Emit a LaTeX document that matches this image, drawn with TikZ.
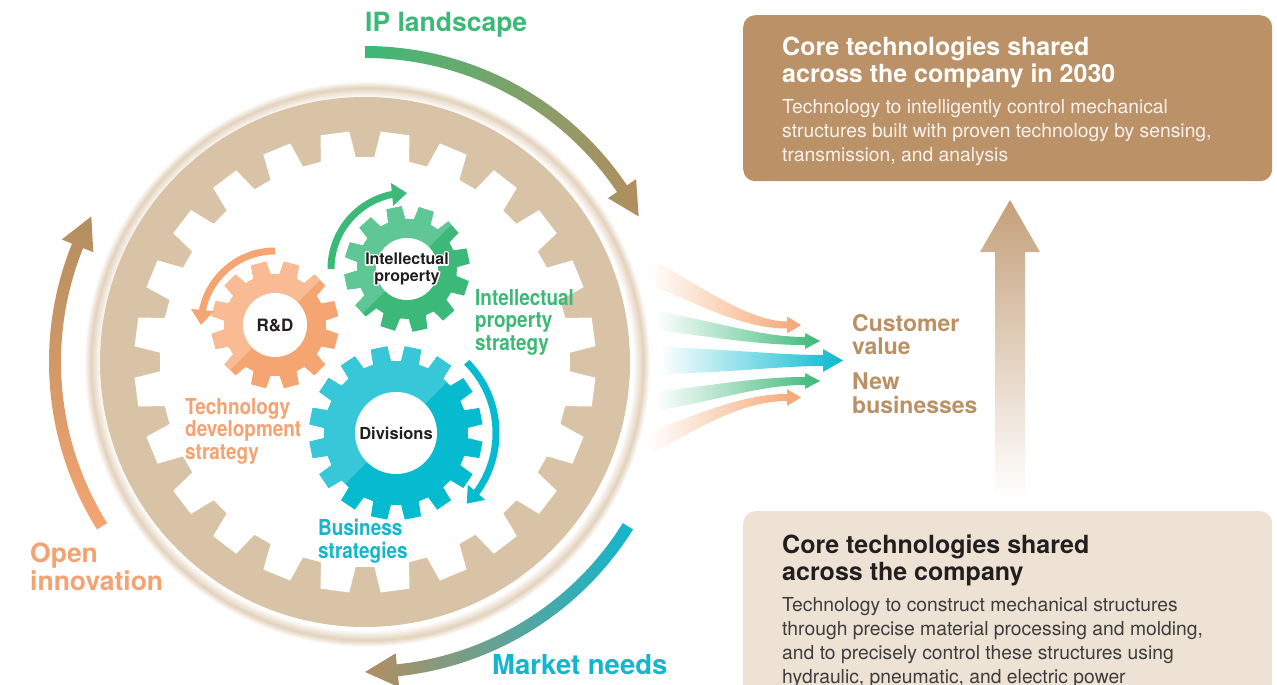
\documentclass[tikz,border=0pt]{standalone}
\usepackage{fontspec}
\setmainfont{TeX Gyre Heros}
\newfontfamily\narrowfont[FakeStretch=0.86]{TeX Gyre Heros}
\usepackage{tikz}
\usetikzlibrary{arrows.meta,bending}

\definecolor{ringtan}{HTML}{D9C3A6}
\definecolor{ringedge}{HTML}{E3D2BD}
\definecolor{rdlight}{HTML}{F8BB94}
\definecolor{rddark}{HTML}{F5A571}
\definecolor{iplight}{HTML}{5EC795}
\definecolor{ipdark}{HTML}{3CB979}
\definecolor{divlight}{HTML}{38C7D8}
\definecolor{divdark}{HTML}{06BACF}
\definecolor{orangetext}{HTML}{F5A272}
\definecolor{greentext}{HTML}{3DB977}
\definecolor{cyantext}{HTML}{13B6CC}
\definecolor{coretan}{HTML}{BB9268}
\definecolor{corelight}{HTML}{EDE2D4}
\definecolor{valuetan}{HTML}{BA9064}
\definecolor{arrowtan}{HTML}{B38E5F}
\definecolor{uptan}{HTML}{C4A07A}
\definecolor{bodygrey}{HTML}{3D3D3D}
\definecolor{titleblack}{HTML}{231F20}

\pgfdeclareradialshading{ringshade}{\pgfpoint{0bp}{0bp}}{%
  color(0bp)=(white); color(23.5bp)=(white); color(24.4bp)=(ringedge);
  color(25bp)=(white); color(50bp)=(white)}

% teeth, tip radius, root radius, tip half angle, root half angle, first tooth
\newcommand\gearpath[6]{(#6-#5:#3)
  \foreach \k in {1,...,#1}{
    -- ({#6+360/#1*(\k-1)-#5}:#3) -- ({#6+360/#1*(\k-1)-#4}:#2)
    -- ({#6+360/#1*(\k-1)+#4}:#2) -- ({#6+360/#1*(\k-1)+#5}:#3)} -- cycle}

% light colour, dark colour, then the six gear numbers
\newcommand\drawgear[8]{%
  \fill[#2] \gearpath{#3}{#4}{#5}{#6}{#7}{#8};
  \begin{scope}
    \clip \gearpath{#3}{#4}{#5}{#6}{#7}{#8};
    \fill[#1] (-130,-130) -- (130,130) -- (-130,130) -- cycle;
  \end{scope}}

\begin{document}
\begin{tikzpicture}[x=1pt,y=1pt,
  hole/.style={circle,fill=white,inner sep=0pt},
  gearword/.style={font=\bfseries\fontsize{17}{17}\selectfont,text=titleblack,align=center,inner sep=0pt},
  bigword/.style={font=\bfseries\fontsize{26.5}{28}\selectfont,anchor=north west,inner sep=0pt,align=left},
  narrowword/.style={font=\narrowfont\bfseries\fontsize{22}{22.5}\selectfont,anchor=north west,inner sep=0pt,align=left},
  valueword/.style={font=\bfseries\fontsize{23}{23.5}\selectfont,text=valuetan,anchor=north west,inner sep=0pt,align=left},
  spin/.style={line width=7pt,-{Triangle[width=22pt,length=15pt]}},
  boxtitle/.style={font=\bfseries\fontsize{25}{27}\selectfont,anchor=north west,inner sep=0pt,align=left},
  boxbody/.style={font=\fontsize{19.3}{24}\selectfont,anchor=north west,inner sep=0pt,align=left}]
\path[use as bounding box] (0,0) rectangle (1277,-685);
\clip (0,0) rectangle (1277,-685);

% fan of arrows towards customer value
\shade[left color=white,right color=rddark] (648,-258) .. controls (690,-278) and (745,-321.5) .. (787,-321.5)
  -- (787,-316.5) -- (801,-325) -- (787,-333.5) -- (787,-328.5) .. controls (740,-328.5) and (695,-302) .. (648,-284) -- cycle;
\shade[left color=white,right color=ipdark] (655,-311) .. controls (720,-322) and (760,-337) .. (805,-337)
  -- (805,-333) -- (820,-341) -- (805,-349) -- (805,-345) .. controls (760,-345) and (720,-338) .. (655,-330) -- cycle;
\shade[left color=white,right color=divdark] (660,-347) .. controls (740,-350) and (780,-355) .. (823,-355)
  -- (823,-349) -- (843,-360.5) -- (823,-372) -- (823,-366) .. controls (780,-366) and (740,-372) .. (660,-374) -- cycle;
\shade[left color=white,right color=ipdark] (655,-392) .. controls (720,-384) and (760,-377) .. (805,-377)
  -- (805,-373) -- (820,-381) -- (805,-389) -- (805,-385) .. controls (760,-385) and (720,-400) .. (655,-411) -- cycle;
\shade[left color=white,right color=rddark] (648,-432) .. controls (695,-416) and (740,-394) .. (787,-394)
  -- (787,-389) -- (801,-397.5) -- (787,-406) -- (787,-401) .. controls (740,-401) and (695,-430) .. (648,-456) -- cycle;

% big wheel
\coordinate (hub) at (365,-362);
\shade[shading=ringshade] (367,-364) circle[radius=283];
\fill[ringtan] (hub) circle[radius=265];
\fill[white,shift={(hub)}] \gearpath{24}{231}{205}{3.6}{4.9}{7.5};

% small gears
\begin{scope}[shift={(275,-325)}]
  \drawgear{rdlight}{rddark}{12}{64}{51}{7}{10}{15}
  \node[hole,minimum size=64pt,gearword] (rd) {R\&D};
\end{scope}
\begin{scope}[shift={(407,-269)}]
  \drawgear{iplight}{ipdark}{12}{63}{50}{7}{10}{12}
  \node[hole,minimum size=62pt] (ip) {};
\end{scope}
\begin{scope}[shift={(396,-433)}]
  \drawgear{divlight}{divdark}{16}{87}{72}{5.5}{7.2}{11.25}
  \node[hole,minimum size=82pt,gearword,font=\bfseries\fontsize{16.5}{17}\selectfont] (div) {Divisions};
\end{scope}
\foreach \ang in {0,30,...,330}
  \node[gearword,text=white,font=\bfseries\fontsize{16}{16.5}\selectfont] at ([shift={(\ang:1.4)}]ip.center) {Intellectual\\property};
\node[gearword,font=\bfseries\fontsize{16}{16.5}\selectfont] (iplabel) at (ip.center) {Intellectual\\property};

% turning arrows
\draw[spin,rddark] ([shift={(90:74)}]rd.center) arc[start angle=90,end angle=180,radius=74];
\draw[spin,ipdark] ([shift={(180:76)}]ip.center) arc[start angle=180,end angle=90,radius=76];
\draw[spin,divdark] ([shift={(45:100)}]div.center) arc[start angle=45,end angle=-45,radius=100];

% outer arrows
\shade[left color=greentext,right color=arrowtan]
  ([shift={(90:316)}]hub) arc[start angle=90,end angle=34,radius=316] -- ([shift={(34:327)}]hub)
  -- ([shift={(28:310)}]hub) -- ([shift={(34:293)}]hub) -- ([shift={(34:304)}]hub)
  arc[start angle=34,end angle=90,radius=304] -- cycle;
\shade[left color=arrowtan,right color=cyantext]
  ([shift={(-32:316)}]hub) arc[start angle=-32,end angle=-84,radius=316] -- ([shift={(-84:327)}]hub)
  -- ([shift={(-90:310)}]hub) -- ([shift={(-84:293)}]hub) -- ([shift={(-84:304)}]hub)
  arc[start angle=-84,end angle=-32,radius=304] -- cycle;
\shade[top color=arrowtan,bottom color=rddark]
  ([shift={(212:316)}]hub) arc[start angle=212,end angle=158,radius=316] -- ([shift={(158:327)}]hub)
  -- ([shift={(152:310)}]hub) -- ([shift={(158:293)}]hub) -- ([shift={(158:304)}]hub)
  arc[start angle=158,end angle=212,radius=304] -- cycle;

% labels
\node[bigword,text=greentext] (landscape) at (365,-12) {IP landscape};
\node[bigword,text=orangetext] (openinno) at (30,-543) {Open\\innovation};
\node[bigword,text=cyantext,font=\bfseries\fontsize{27.5}{28}\selectfont] (market) at (492,-654) {Market needs};
\node[narrowword,text=greentext] (ipplan) at (475,-289) {Intellectual\\property\\strategy};
\node[narrowword,text=orangetext] (techplan) at (185,-398) {Technology\\development\\strategy};
\node[narrowword,text=cyantext] (bizplan) at (318,-519) {Business\\strategies};
\node[valueword] (custvalue) at (852,-314) {Customer\\value};
\node[valueword] (newbiz) at (852,-373) {New\\businesses};

% core technology boxes
\node[fill=coretan,rounded corners=12pt,minimum width=529pt,minimum height=166pt,anchor=north west,inner sep=0pt] (future) at (743,-15) {};
\node[boxtitle,text=white] (futuretitle) at ([shift={(39,-22)}]future.north west) {Core technologies shared\\across the company in 2030};
\node[boxbody,text=white!88!coretan] (futurebody) at ([shift={(39,-84)}]future.north west)
  {Technology to intelligently control mechanical\\structures built with proven technology by sensing,\\transmission, and analysis};
\node[fill=corelight,rounded corners=12pt,minimum width=529pt,minimum height=200pt,anchor=north west,inner sep=0pt] (present) at (743,-511) {};
\node[boxtitle,text=titleblack] (presenttitle) at ([shift={(39,-24)}]present.north west) {Core technologies shared\\across the company};
\node[boxbody,text=bodygrey] (presentbody) at ([shift={(39,-86)}]present.north west)
  {Technology to construct mechanical structures\\through precise material processing and molding,\\and to precisely control these structures using\\hydraulic, pneumatic, and electric power};
\shade[top color=uptan,bottom color=white] (995,-497) -- (995,-252) -- (980,-252) -- (1010,-200)
  -- (1040,-252) -- (1025,-252) -- (1025,-497) -- cycle;
\end{tikzpicture}
\end{document}
